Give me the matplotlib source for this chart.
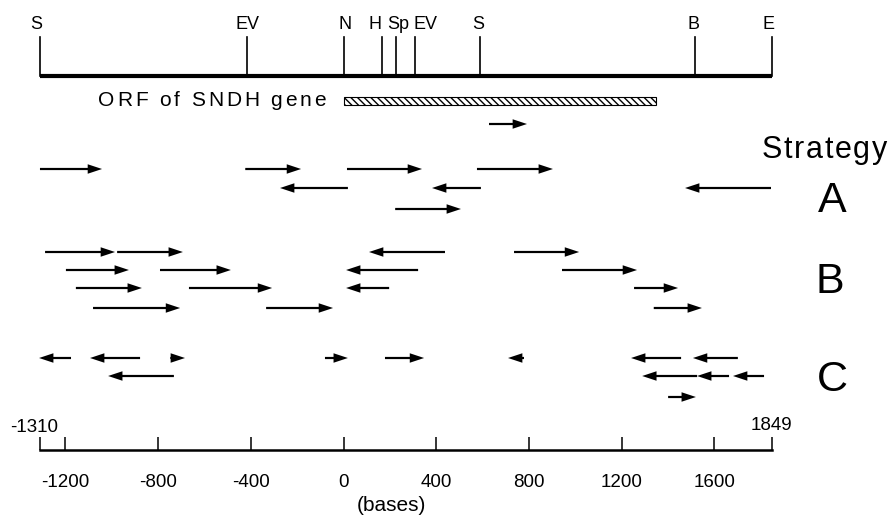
import matplotlib
matplotlib.use("Agg")
import matplotlib.pyplot as plt
from matplotlib.transforms import offset_copy

plt.rcParams['font.family'] = ['Liberation Sans', 'DejaVu Sans']
plt.rcParams['axes.unicode_minus'] = False

# restriction map (positions in bases)
site_names = ['S', 'EV', 'N', 'H', 'Sp', 'EV', 'S', 'B', 'E']
site_pos = [-1310, -416, 0, 166, 227, 307, 589, 1516, 1849]
site_label_pos = [-1328, -416, 6, 136, 235, 352, 580, 1512, 1836]

orf_start = 0
orf_end = 1349

# sequencing runs: (start, end) in bases, arrow points from start to end
top_run = [(628, 792)]

strat_A = [
    [(-1310, -1042), (-424, -183), (15, 339), (576, 904)],
    [(19, -274), (593, 382), (1845, 1474)],
    [(223, 507)],
]
strat_B = [
    [(-1288, -986), (-977, -693), (438, 110), (736, 1017)],
    [(-1198, -926), (-792, -486), (322, 11), (943, 1267)],
    [(-1155, -870), (-667, -308), (197, 11), (1254, 1444)],
    [(-1081, -705), (-334, -45), (1339, 1547)],
]
strat_C = [
    [(-1176, -1314), (-878, -1094), (-748, -684), (-80, 19), (179, 348),
     (779, 710), (1457, 1241), (1702, 1508)],
    [(-732, -1016), (1526, 1289), (1664, 1526), (1815, 1681)],
    [(1401, 1521)],
]

scale_ticks = [-1200, -800, -400, 0, 400, 800, 1200, 1600]
scale_min, scale_max = -1310, 1849


def draw_runs(ax, runs, y):
    for start, end in runs:
        ax.arrow(start, y, end - start, 0, width=2.2, head_width=9.5,
                 head_length=62, length_includes_head=True,
                 color='black', lw=0)


def tracked_text(ax, x, y, s, size, spacing, ha='left'):
    # text with extra letter spacing (pixels), drawn glyph by glyph
    fig = ax.figure
    r = fig.canvas.get_renderer()
    widths = []
    for ch in s:
        if ch == ' ':
            widths.append(size * 100 / 72 * 0.278)
            continue
        t = ax.text(0, 0, ch, fontsize=size)
        widths.append(t.get_window_extent(r).width)
        t.remove()
    total = sum(widths) + spacing * (len(s) - 1)
    off = {'left': 0, 'center': -total / 2, 'right': -total}[ha]
    for ch, w in zip(s, widths):
        if ch != ' ':
            tr = offset_copy(ax.transData, fig=fig, x=off, y=0, units='dots')
            ax.text(x, y, ch, fontsize=size, ha='left', va='baseline', transform=tr)
        off += w + spacing


fig = plt.figure(figsize=(8.89, 5.16), dpi=100)
ax = fig.add_axes([0, 0, 1, 1])
# x in bases, y in pixel rows
ax.set_xlim(-1482.5, 2354.3)
ax.set_ylim(516, 0)

# top map
ax.plot([scale_min, scale_max], [76, 76], color='black', lw=3, solid_capstyle='butt')
for name, p, lp in zip(site_names, site_pos, site_label_pos):
    ax.plot([p, p], [37, 76], color='black', lw=1.2)
    ax.text(lp, 29, name, ha='center', va='baseline', fontsize=13)

# ORF bar
plt.rcParams['hatch.linewidth'] = 1.0
ax.barh(100.5, orf_end - orf_start, left=orf_start, height=8,
        facecolor='white', edgecolor='black', hatch='\\\\\\\\\\', lw=0.8)
tracked_text(ax, -78, 106, 'ORF of SNDH gene', 15, 2.8, ha='right')

# arrows
draw_runs(ax, top_run, 124)
for runs, y in zip(strat_A, [169, 188, 209]):
    draw_runs(ax, runs, y)
for runs, y in zip(strat_B, [252, 270, 288, 308]):
    draw_runs(ax, runs, y)
for runs, y in zip(strat_C, [358, 376, 397]):
    draw_runs(ax, runs, y)

tracked_text(ax, 1806, 158, 'Strategy', 22, 1.6, ha='left')
ax.text(2108, 212, 'A', ha='center', va='baseline', fontsize=31)
ax.text(2100, 293, 'B', ha='center', va='baseline', fontsize=31)
ax.text(2108, 391, 'C', ha='center', va='baseline', fontsize=31)

# bottom scale drawn with the axis itself
for s in ['top', 'left', 'right']:
    ax.spines[s].set_visible(False)
ax.spines['bottom'].set_position(('data', 450))
ax.spines['bottom'].set_bounds(scale_min, scale_max)
ax.spines['bottom'].set_linewidth(1.8)
ax.set_yticks([])
ax.set_xticks(scale_ticks)
ax.set_xticks([scale_min, scale_max], minor=True)
ax.tick_params(axis='x', which='both', direction='in', length=9.5, width=1.1,
               labelsize=13.5, pad=17)
ax.text(-1440, 432, '-1310', ha='left', va='baseline', fontsize=13.5)
ax.text(1849, 430, '1849', ha='center', va='baseline', fontsize=13.5)
ax.text(208, 511, '(bases)', ha='center', va='baseline', fontsize=15)

fig.savefig('out.png', dpi=100)
